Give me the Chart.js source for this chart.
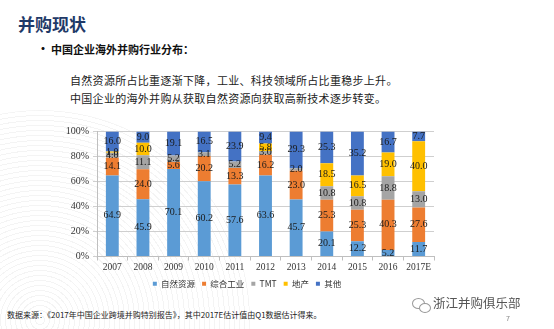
<!DOCTYPE html>
<html><head><meta charset="utf-8">
<script src="https://cdn.jsdelivr.net/npm/chart.js@4.4.0/dist/chart.umd.min.js"></script>
<style>
html,body{margin:0;padding:0;background:#fff;}
body{width:554px;height:329px;position:relative;overflow:hidden;font-family:"Noto Sans CJK SC",sans-serif;}
.abs{position:absolute;white-space:nowrap;line-height:1;}
#swirl{position:absolute;left:-170px;top:110px;width:420px;height:420px;border-radius:50%;
 background:repeating-radial-gradient(circle at 50% 50%, rgba(0,0,0,0) 0 4px, rgba(0,0,0,0.045) 4px 5px);}
#chartWrap{position:absolute;left:60px;top:120px;width:410px;height:178px;}
.bub{position:absolute;border:1px solid #999;border-radius:50%;}
</style></head><body>
<div id="swirl"></div>
<div class="abs" style="left:18px;top:15px;font-size:17px;font-weight:bold;color:#1F3A68;">并购现状</div>
<div class="abs" style="left:37px;top:43px;font-size:12px;font-weight:bold;color:#111;">•</div>
<div class="abs" style="left:51px;top:44px;font-size:11px;font-weight:bold;color:#111;">中国企业海外并购行业分布：</div>
<div class="abs" style="left:70px;top:75px;font-size:11px;color:#222;letter-spacing:0.3px;">自然资源所占比重逐渐下降，工业、科技领域所占比重稳步上升。</div>
<div class="abs" style="left:70px;top:93px;font-size:11px;color:#222;letter-spacing:0.3px;">中国企业的海外并购从获取自然资源向获取高新技术逐步转变。</div>
<div id="chartWrap"><canvas id="c" width="410" height="178"></canvas></div>
<div class="abs" style="left:7px;top:311px;font-size:8px;color:#222;">数据来源：《2017年中国企业跨境并购特别报告》，其中2017E估计值由Q1数据估计得来。</div>
<div class="bub" style="left:412px;top:298px;width:11px;height:9px;"></div>
<div class="bub" style="left:419px;top:303px;width:10px;height:8px;background:#fff;"></div>
<div class="abs" style="left:433px;top:297px;font-size:12.5px;color:#555;">浙江并购俱乐部</div>
<div class="abs" style="left:506px;top:315px;font-size:7px;color:#888;">7</div>
<script>
const years = ['2007','2008','2009','2010','2011','2012','2013','2014','2015','2016','2017E'];
const naturalRes = [64.9,45.9,70.1,60.2,57.6,63.6,45.7,20.1,12.2,5.2,11.7];
const industry   = [14.1,24.0,5.6,20.2,13.3,16.2,23.0,25.3,25.3,40.3,27.6];
const tmt        = [4.0,11.1,5.2,3.1,5.2,3.0,2.0,10.8,10.8,18.8,13.0];
const realEstate = [1.0,10.0,0,0,0,5.8,0,18.5,16.5,19.0,40.0];
const others     = [16.0,9.0,19.1,16.5,23.9,9.4,29.3,25.3,35.2,16.7,7.7];
const seriesNames = ['自然资源','综合工业','TMT','地产','其他'];
const yTicks = [0,10,20,30,40,50,60,70,80,90,100];

const raw = [naturalRes, industry, tmt, realEstate, others];
const colors = ['#5B9BD5','#ED7D31','#A5A5A5','#FFC000','#4472C4'];
const totals = years.map((_, i) => raw.reduce((s, a) => s + a[i], 0));

const valueLabels = {
  id: 'valueLabels',
  afterDatasetsDraw(chart) {
    const ctx = chart.ctx; ctx.save();
    ctx.font = '10px "Liberation Serif"'; ctx.textAlign = 'center'; ctx.textBaseline = 'middle';
    ctx.fillStyle = '#1a1a1a';
    chart.data.datasets.forEach((ds, di) => {
      const meta = chart.getDatasetMeta(di);
      meta.data.forEach((bar, i) => {
        const v = ds.rawValues[i];
        if (!v) return;
        ctx.fillText(v.toFixed(1), bar.x, (bar.y + bar.base) / 2);
      });
    });
    ctx.restore();
  }
};

new Chart(document.getElementById('c'), {
  type: 'bar',
  data: {
    labels: years,
    datasets: raw.map((arr, k) => ({
      label: seriesNames[k],
      rawValues: arr,
      data: arr.map((v, i) => v / totals[i] * 100),
      backgroundColor: colors[k],
      borderWidth: 0,
      barPercentage: 0.42,
      categoryPercentage: 1.0
    }))
  },
  options: {
    responsive: false, animation: false, devicePixelRatio: 1,
    layout: { padding: { top: 11.5, right: 36, left: 0, bottom: 0 } },
    plugins: {
      tooltip: { enabled: false },
      legend: {
        position: 'bottom',
        labels: { boxWidth: 4, boxHeight: 4, padding: 7, color: '#333',
          font: { family: '"Noto Sans CJK SC"', size: 8.5 } }
      }
    },
    scales: {
      x: {
        stacked: true,
        grid: { display: true, drawOnChartArea: false, offset: true, color: '#bfbfbf', tickLength: 4 },
        border: { color: '#bfbfbf' },
        ticks: { color: '#333', padding: 1, autoSkip: false, maxRotation: 0, minRotation: 0,
          font: { family: '"Liberation Serif"', size: 9.5 } },
        afterFit(s) { s.height = 16; }
      },
      y: {
        stacked: true, min: 0, max: 100,
        afterBuildTicks(s) { s.ticks = yTicks.map(v => ({ value: v })); },
        grid: { color: '#cfcfcf', tickLength: 4 },
        border: { color: '#bfbfbf' },
        ticks: { color: '#333', padding: 4, callback: v => v + '%',
          font: { family: '"Liberation Serif"', size: 10 } },
        afterFit(s) { s.width = 37; }
      }
    }
  },
  plugins: [valueLabels]
});
</script>
</body></html>
